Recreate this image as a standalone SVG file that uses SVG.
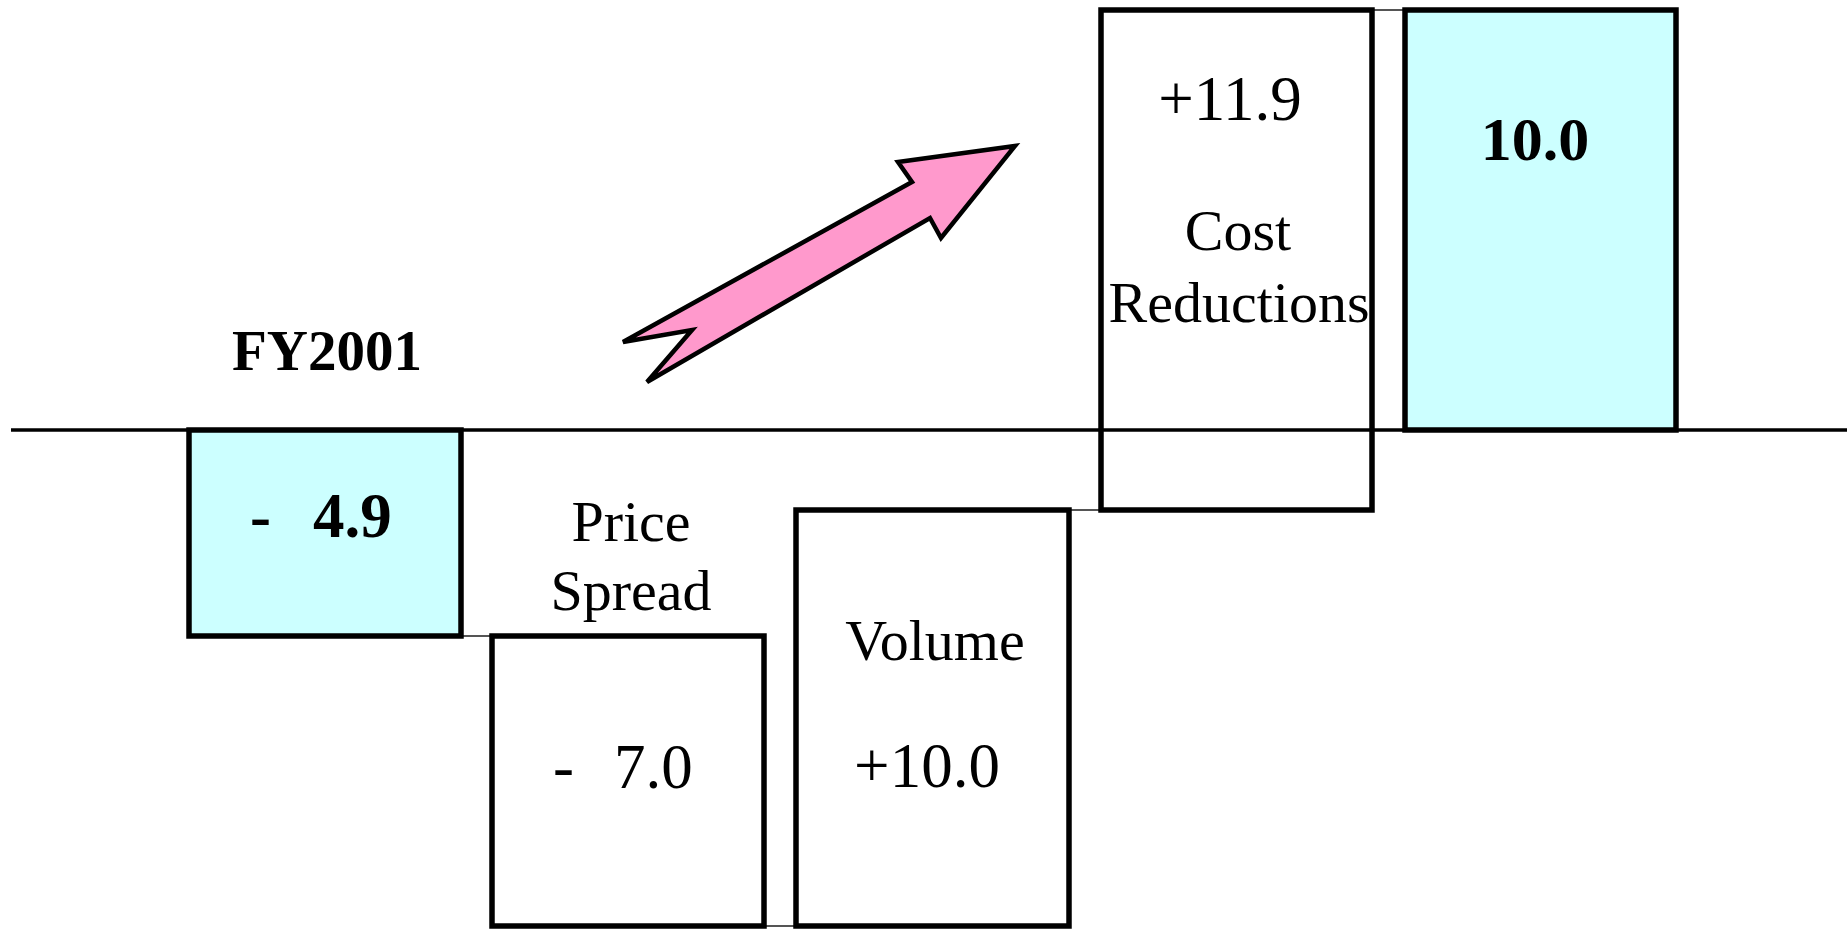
<svg xmlns="http://www.w3.org/2000/svg" width="1847" height="929" viewBox="0 0 1847 929">
<style>
.box{stroke:#000;stroke-width:5.5}
.fill{fill:#CCFFFF}
.plain{fill:#FFFFFF}
.t{font-family:"Liberation Serif","Times New Roman",serif;fill:#000}
.lbl{font-size:58px}
.num{font-size:63px}
.b{font-weight:bold}
.conn{stroke:#555;stroke-width:2;fill:none}
</style>
<rect width="1847" height="929" fill="#FFFFFF"/>
<g id="connectors">
<line class="conn" x1="461" y1="636" x2="492" y2="636"/>
<line class="conn" x1="764" y1="926" x2="796" y2="926"/>
<line class="conn" x1="1069" y1="510" x2="1101" y2="510"/>
<line class="conn" x1="1372" y1="10" x2="1405" y2="10"/>
</g>
<g id="fy2001">
<rect class="box fill" x="189" y="430" width="272" height="206"/>
<text class="t b" x="327" y="370" font-size="57" text-anchor="middle">FY2001</text>
<text class="t b num" x="250" y="537" xml:space="preserve">-  <tspan x="313">4.9</tspan></text>
</g>
<g id="price-spread">
<rect class="box plain" x="492" y="636" width="272" height="290"/>
<text class="t lbl" x="631" y="541" text-anchor="middle">Price</text>
<text class="t lbl" x="631" y="610" text-anchor="middle">Spread</text>
<text class="t num" x="553" y="788" xml:space="preserve">-  <tspan x="614">7.0</tspan></text>
</g>
<g id="volume">
<rect class="box plain" x="796" y="510" width="273" height="416"/>
<text class="t lbl" x="935" y="660" text-anchor="middle">Volume</text>
<text class="t num" x="927" y="787" text-anchor="middle">+10.0</text>
</g>
<g id="cost-reductions">
<rect class="box" fill="none" x="1101" y="10" width="271" height="500"/>
<text class="t num" x="1230" y="120" text-anchor="middle">+11.9</text>
<text class="t lbl" x="1238" y="250" text-anchor="middle">Cost</text>
<text class="t lbl" x="1239" y="322" text-anchor="middle">Reductions</text>
</g>
<g id="fy2002">
<rect class="box fill" x="1405" y="10" width="271" height="420"/>
<text class="t b" x="1535" y="160" font-size="62" text-anchor="middle">10.0</text>
</g>
<g id="axis">
<line x1="11" y1="430" x2="1847" y2="430" stroke="#000" stroke-width="3.5"/>
</g>
<g id="arrow">
<polygon points="623,342 912,182 898,162 1015,146 941,238 930,218 647,382 692,330" fill="#FF99CC" stroke="#000" stroke-width="4.5" stroke-linejoin="miter"/>
</g>
</svg>
